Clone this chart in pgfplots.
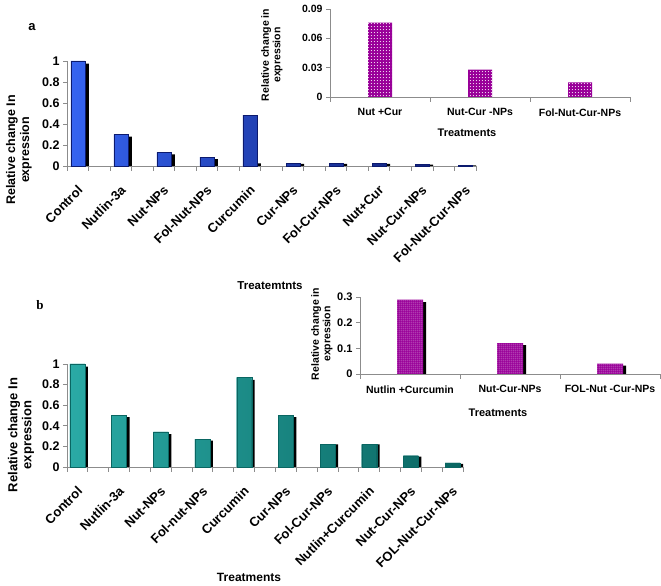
\documentclass[border=0pt]{standalone}
\usepackage{pgfplots}
\pgfplotsset{compat=1.18}
\usepackage{fontspec}
\setmainfont{Liberation Sans}
\newfontfamily\serifb{Liberation Serif}
\usetikzlibrary{patterns}
\pgfdeclarepatternformonly{sparsedots}{\pgfpointorigin}{\pgfpoint{6pt}{7pt}}{\pgfpoint{6pt}{7pt}}{%
  \pgfpathcircle{\pgfpoint{1.5pt}{1.5pt}}{0.55pt}\pgfusepath{fill}%
  \pgfpathcircle{\pgfpoint{4.3pt}{4.8pt}}{0.5pt}\pgfusepath{fill}}
\pgfdeclarepatternformonly{griddots}{\pgfpointorigin}{\pgfpoint{3.4pt}{3.4pt}}{\pgfpoint{3.4pt}{3.4pt}}{%
  \pgfpathcircle{\pgfpoint{1.7pt}{1.7pt}}{0.6pt}\pgfusepath{fill}}
\pgfdeclarepatternformonly{finedots}{\pgfpointorigin}{\pgfpoint{2.3pt}{2.3pt}}{\pgfpoint{2.3pt}{2.3pt}}{%
  \pgfpathcircle{\pgfpoint{1.15pt}{1.15pt}}{0.55pt}\pgfusepath{fill}}
\definecolor{axgray}{HTML}{8C8C8C}
\definecolor{purp}{HTML}{990099}
\definecolor{blueL}{HTML}{3563F0}
\definecolor{blueD}{HTML}{0C1A6E}
\definecolor{tealL}{HTML}{2AAAA5}
\definecolor{tealD}{HTML}{0A6662}
\pgfplotsset{
  chartbase/.style={
    scale only axis, axis lines*=left,
    axis line style={axgray, line width=0.8pt},
    tick align=outside,
    major tick length=4pt, minor tick length=5pt,
    major y tick style={axgray, line width=0.8pt},
    major x tick style={draw=none},
    minor x tick style={axgray, line width=0.8pt},
    ymin=0, xmin=0, ybar, clip=false,
    scaled y ticks=false,
    /pgf/number format/assume math mode=true,
    yticklabel style={/pgf/number format/fixed, /pgf/number format/precision=2},
  },
}
\begin{document}
\begin{tikzpicture}[x=1pt,y=1pt]
\useasboundingbox (0,0) rectangle (661,586);
%---------------- panel a main
\begin{axis}[chartbase, at={(67pt,420pt)}, anchor=south west,
  width=409pt, height=105pt, xmax=19, ymax=1,
  ytick={0,0.2,0.4,0.6,0.8,1},
  xtick={0.5,2.5,4.5,6.5,8.5,10.5,12.5,14.5,16.5,18.5},
  minor xtick={0,1,2,3,4,5,6,7,8,9,10,11,12,13,14,15,16,17,18,19},
  xticklabels={Control,Nutlin-3a,Nut-NPs,Fol-Nut-NPs,Curcumin,Cur-NPs,Fol-Cur-NPs,Nut+Cur,Nut-Cur-NPs,Fol-Nut-Cur-NPs},
  xticklabel style={xshift=-1pt, yshift=-13pt, rotate=45, anchor=north east, inner sep=1pt, font=\bfseries\fontsize{13}{13}\selectfont},
  yticklabel style={font=\bfseries\fontsize{12.5}{12.5}\selectfont},
]
\addplot[fill=black, draw=none, bar width=14pt, bar shift=4pt] coordinates {
(0.5,0.975) (2.5,0.28) (4.5,0.11) (6.5,0.065) (8.5,0.025) (10.5,0.02) (12.5,0.02) (14.5,0.02) (16.5,0.012) (18.5,0.006)};
\addplot[left color=blueL, right color=blueD, draw=blueD, line width=0.3pt, bar width=14pt, bar shift=0pt] coordinates {
(0.5,1.0) (2.5,0.30) (4.5,0.13) (6.5,0.085) (8.5,0.485) (10.5,0.025) (12.5,0.025) (14.5,0.025) (16.5,0.015) (18.5,0.008)};
\end{axis}
%---------------- panel a inset
\begin{axis}[chartbase, at={(330pt,489pt)}, anchor=south west,
  width=300pt, height=88pt, xmax=3, ymax=0.09,
  ytick={0,0.03,0.06,0.09},
  xtick={0.5,1.5,2.5}, minor xtick={0,1,2,3},
  xticklabels={Nut +Cur,Nut-Cur -NPs,Fol-Nut-Cur-NPs},
  xticklabel style={yshift=-4pt, font=\bfseries\fontsize{10.5}{10.5}\selectfont},
  yticklabel style={font=\bfseries\fontsize{10.5}{10.5}\selectfont},
]
\addplot[fill=purp, draw=none, bar width=24pt, bar shift=0pt,
  postaction={pattern=griddots, pattern color=white}] coordinates {
(0.5,0.076) (1.5,0.028) (2.5,0.015)};
\end{axis}
%---------------- panel b main
\begin{axis}[chartbase, at={(67pt,119pt)}, anchor=south west,
  width=396pt, height=103pt, xmax=19, ymax=1,
  ytick={0,0.2,0.4,0.6,0.8,1},
  xtick={0.5,2.5,4.5,6.5,8.5,10.5,12.5,14.5,16.5,18.5},
  minor xtick={0,1,2,3,4,5,6,7,8,9,10,11,12,13,14,15,16,17,18,19},
  xticklabels={Control,Nutlin-3a,Nut-NPs,Fol-nut-NPs,Curcumin,Cur-NPs,Fol-Cur-NPs,Nutlin+Curcumin,Nut-Cur-NPs,FOL-Nut-Cur-NPs},
  xticklabel style={xshift=-1pt, yshift=-13pt, rotate=45, anchor=north east, inner sep=1pt, font=\bfseries\fontsize{13}{13}\selectfont},
  yticklabel style={font=\bfseries\fontsize{12.5}{12.5}\selectfont},
]
\addplot[fill=black, draw=none, bar width=15pt, bar shift=3pt] coordinates {
(0.5,0.975) (2.5,0.485) (4.5,0.32) (6.5,0.255) (8.5,0.845) (10.5,0.485) (12.5,0.22) (14.5,0.22) (16.5,0.10) (18.5,0.03)};
\addplot[left color=tealL, right color=tealD, draw=tealD, line width=0.3pt, bar width=15pt, bar shift=0pt,
  postaction={pattern=sparsedots, pattern color=white!80!cyan}] coordinates {
(0.5,1.0) (2.5,0.50) (4.5,0.34) (6.5,0.27) (8.5,0.87) (10.5,0.50) (12.5,0.22) (14.5,0.22) (16.5,0.11) (18.5,0.04)};
\end{axis}
%---------------- panel b inset
\begin{axis}[chartbase, at={(360pt,212pt)}, anchor=south west,
  width=300pt, height=77pt, xmax=3, ymax=0.3,
  ytick={0,0.1,0.2,0.3},
  xtick={0.5,1.5,2.5}, minor xtick={0,1,2,3},
  xticklabels={Nutlin +Curcumin,Nut-Cur-NPs,FOL-Nut -Cur-NPs},
  xticklabel style={yshift=-4pt, font=\bfseries\fontsize{10.5}{10.5}\selectfont},
  yticklabel style={font=\bfseries\fontsize{11}{11}\selectfont},
]
\addplot[fill=black, draw=none, bar width=26pt, bar shift=3pt] coordinates {
(0.5,0.28) (1.5,0.112) (2.5,0.033)};
\addplot[fill=purp, draw=none, bar width=26pt, bar shift=0pt,
  postaction={pattern=finedots, pattern color=white}] coordinates {
(0.5,0.29) (1.5,0.12) (2.5,0.04)};
\end{axis}
%---------------- labels
\node[font=\bfseries\fontsize{13}{13}\selectfont] at (32,559) {a};
\node[font=\serifb\bfseries\fontsize{13}{13}\selectfont] at (40,281) {b};
\node[rotate=90, align=center, font=\bfseries\fontsize{12.5}{14}\selectfont] at (19,436) {Relative change In\\expression};
\node[font=\bfseries\fontsize{11.5}{11.5}\selectfont] at (270,300) {Treatemtnts};
\node[rotate=90, align=center, font=\bfseries\fontsize{10.5}{11.5}\selectfont] at (272,531) {Relative change in\\expression};
\node[font=\bfseries\fontsize{11}{11}\selectfont] at (467,453) {Treatments};
\node[rotate=90, align=center, font=\bfseries\fontsize{13}{14}\selectfont] at (21,151) {Relative change In\\expression};
\node[font=\bfseries\fontsize{12}{12}\selectfont] at (249,9) {Treatments};
\node[rotate=90, align=center, font=\bfseries\fontsize{10.5}{11.5}\selectfont] at (322,252) {Relative change in\\expression};
\node[font=\bfseries\fontsize{11}{11}\selectfont] at (498,173) {Treatments};
\end{tikzpicture}
\end{document}
